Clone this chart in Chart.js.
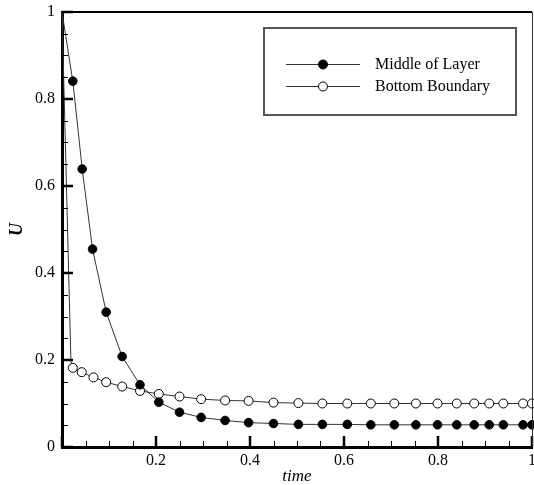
<!DOCTYPE html>
<html>
<head>
<meta charset="utf-8">
<script src="https://cdn.jsdelivr.net/npm/chart.js@4/dist/chart.umd.min.js"></script>
<style>
  html, body { margin: 0; padding: 0; background: #fff; }
  #wrap { width: 534px; height: 485px; }
</style>
</head>
<body>
<div id="wrap"><canvas id="myChart"></canvas></div>
<script>
// ---- data ----
const timeMid = [0, 0.023, 0.043, 0.065, 0.094, 0.128, 0.166, 0.206, 0.25, 0.296, 0.347, 0.397,
  0.45, 0.503, 0.554, 0.607, 0.657, 0.707, 0.753, 0.799, 0.84, 0.877, 0.909, 0.939, 0.981, 1.0];
const middleLayer = [1, 0.841, 0.639, 0.455, 0.31, 0.208, 0.143, 0.103, 0.08, 0.068, 0.061, 0.056,
  0.054, 0.052, 0.052, 0.052, 0.051, 0.051, 0.051, 0.051, 0.051, 0.051, 0.051, 0.051, 0.051, 0.051];

const timeBot = [0, 0.019, 0.023, 0.042, 0.067, 0.094, 0.128, 0.166, 0.206, 0.25, 0.296, 0.347, 0.397,
  0.45, 0.503, 0.554, 0.607, 0.657, 0.707, 0.753, 0.799, 0.84, 0.877, 0.909, 0.939, 0.981, 1.0];
const bottomBoundary = [1, 0.197, 0.182, 0.172, 0.16, 0.149, 0.139, 0.129, 0.122, 0.116, 0.11, 0.107, 0.106,
  0.102, 0.101, 0.1, 0.1, 0.1, 0.1, 0.1, 0.1, 0.1, 0.1, 0.1, 0.1, 0.1, 0.1];

const seriesNames = ['Middle of Layer', 'Bottom Boundary'];
const xTicks = [0, 0.2, 0.4, 0.6, 0.8, 1];
const yTicks = [0, 0.2, 0.4, 0.6, 0.8, 1];

const serif = "'Times New Roman', 'Liberation Serif', serif";

const toPts = (xs, ys) => xs.map((x, i) => ({x: x, y: ys[i]}));

//----- ticks inside + frame + legend -----
const framePlugin = {
  id: 'frame',
  afterDraw(chart) {
    const c = chart.ctx, a = chart.chartArea;
    const sx = chart.scales.x, sy = chart.scales.y;
    c.save();
    c.strokeStyle = '#000';
    // minor ticks every 0.05
    c.lineWidth = 1;
    for (let v = 0; v <= 1.0001; v += 0.05) {
      const px = Math.round(sx.getPixelForValue(v)) + 0.5;
      c.beginPath(); c.moveTo(px, a.bottom); c.lineTo(px, a.bottom - 6); c.stroke();
      const py = Math.round(sy.getPixelForValue(v)) + 0.5;
      c.beginPath(); c.moveTo(a.left, py); c.lineTo(a.left + 6, py); c.stroke();
    }
    // major ticks
    c.lineWidth = 2.5;
    xTicks.forEach(v => {
      const px = sx.getPixelForValue(v);
      c.beginPath(); c.moveTo(px, a.bottom); c.lineTo(px, a.bottom - 11); c.stroke();
    });
    yTicks.forEach(v => {
      const py = sy.getPixelForValue(v);
      c.beginPath(); c.moveTo(a.left, py); c.lineTo(a.left + 11, py); c.stroke();
    });
    // top and right frame
    c.lineWidth = 2;
    c.beginPath(); c.moveTo(a.left, a.top); c.lineTo(a.right, a.top); c.stroke();
    c.lineWidth = 1;
    c.strokeStyle = '#333';
    c.beginPath(); c.moveTo(a.right + 0.5, a.top); c.lineTo(a.right + 0.5, a.bottom); c.stroke();

    // legend box
    c.strokeStyle = '#555';
    c.lineWidth = 2;
    c.strokeRect(264, 28, 252, 87);
    const rows = [64, 86];
    chart.data.datasets.forEach((ds, i) => {
      const y = rows[i];
      c.strokeStyle = '#333';
      c.lineWidth = 1;
      c.beginPath(); c.moveTo(286, y + 0.5); c.lineTo(360, y + 0.5); c.stroke();
      c.beginPath(); c.arc(323, y + 0.5, 4.5, 0, Math.PI * 2);
      c.fillStyle = ds.pointBackgroundColor;
      c.fill();
      c.strokeStyle = '#000';
      c.stroke();
      c.fillStyle = '#000';
      c.font = '16px ' + serif;
      c.textAlign = 'left';
      c.textBaseline = 'middle';
      c.fillText(ds.label, 375, y + 1);
    });
    c.restore();
  }
};

const ctx = document.getElementById('myChart').getContext('2d');
const config = {
  type: 'scatter',
  data: {
    datasets: [
      {
        label: seriesNames[0],
        data: toPts(timeMid, middleLayer),
        showLine: true,
        borderColor: '#333',
        borderWidth: 1,
        pointBackgroundColor: '#000',
        pointBorderColor: '#000',
        pointBorderWidth: 1,
        pointRadius: timeMid.map((t, i) => i === 0 ? 0 : 4.3),
        clip: false,
      },
      {
        label: seriesNames[1],
        data: toPts(timeBot, bottomBoundary),
        showLine: true,
        borderColor: '#333',
        borderWidth: 1,
        pointBackgroundColor: '#fff',
        pointBorderColor: '#000',
        pointBorderWidth: 1,
        pointRadius: timeBot.map((t, i) => i < 2 ? 0 : 4.5),
        clip: false,
      },
    ],
  },
  options: {
    responsive: true,
    maintainAspectRatio: false,
    animation: false,
    layout: { autoPadding: false, padding: { top: 12, right: 2, left: 0, bottom: 0 } },
    plugins: {
      legend: { display: false },
      tooltip: { enabled: false },
    },
    scales: {
      x: {
        type: 'linear',
        min: 0, max: 1,
        afterFit: s => { s.height = 38; s.paddingLeft = 0; s.paddingRight = 0; },
        afterBuildTicks: s => { s.ticks = xTicks.map(v => ({value: v})); },
        grid: { display: false, drawTicks: false },
        border: { display: true, color: '#000', width: 3 },
        ticks: {
          color: '#000',
          padding: 4,
          maxRotation: 0,
          font: { family: serif, size: 16 },
          callback: v => v === 0 ? '' : String(Math.round(v * 10) / 10),
        },
        title: {
          display: true,
          text: 'time',
          color: '#000',
          padding: { top: 0, bottom: -2 },
          font: { family: serif, size: 17, style: 'italic' },
        },
      },
      y: {
        type: 'linear',
        min: 0, max: 1,
        afterFit: s => { s.width = 62; s.paddingTop = 0; s.paddingBottom = 0; },
        afterBuildTicks: s => { s.ticks = yTicks.map(v => ({value: v})); },
        grid: { display: false, drawTicks: false },
        border: { display: true, color: '#000', width: 3 },
        ticks: {
          color: '#000',
          padding: 7,
          font: { family: serif, size: 16 },
          callback: v => String(Math.round(v * 10) / 10),
        },
        title: {
          display: true,
          text: 'U',
          color: '#000',
          padding: { top: 7, bottom: 0 },
          font: { family: serif, size: 18, style: 'italic', weight: 'bold' },
        },
      },
    },
  },
  plugins: [framePlugin],
};

Chart.defaults.color = '#000';
const uChart = new Chart(ctx, config);
</script>
</body>
</html>
